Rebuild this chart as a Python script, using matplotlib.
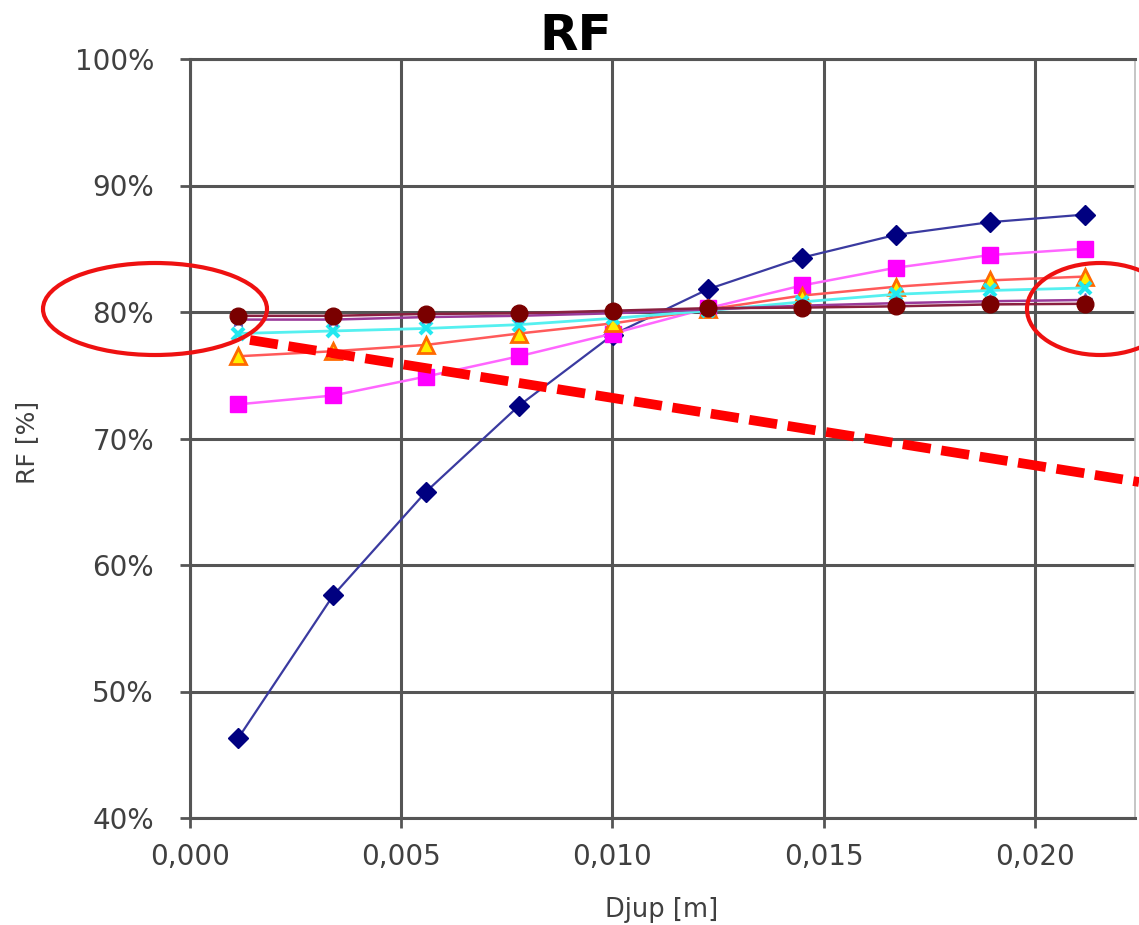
import matplotlib
matplotlib.use("Agg")
import matplotlib.pyplot as plt
from matplotlib.patches import Ellipse
from matplotlib.ticker import FuncFormatter

# Djup [m]
djup = [0.00114, 0.00339, 0.00559, 0.00779, 0.01001, 0.01226, 0.01449, 0.01671, 0.01893, 0.02118]

# RF [%] per series
rf_navy = [46.3, 57.6, 65.8, 72.6, 78.2, 81.8, 84.3, 86.1, 87.1, 87.7]
rf_magenta = [72.7, 73.4, 74.9, 76.5, 78.3, 80.3, 82.1, 83.5, 84.5, 85.0]
rf_triangle = [76.5, 76.9, 77.4, 78.3, 79.1, 80.2, 81.3, 82.0, 82.5, 82.8]
rf_cyan = [78.3, 78.5, 78.7, 79.0, 79.5, 80.1, 80.8, 81.4, 81.7, 81.9]
rf_purple = [79.4, 79.4, 79.6, 79.7, 79.9, 80.2, 80.5, 80.7, 80.85, 80.95]
rf_darkred = [79.7, 79.7, 79.85, 79.9, 80.1, 80.3, 80.35, 80.45, 80.6, 80.65]

x_ticks = [0.000, 0.005, 0.010, 0.015, 0.020]
y_ticks = [40, 50, 60, 70, 80, 90, 100]

W, H = 1139, 925
fig = plt.figure(figsize=(W / 100, H / 100), dpi=100)
ax = fig.add_axes([190 / W, (H - 818) / H, (1135 - 190) / W, (818 - 59) / H])

grid_c = "#555555"
ax.plot(djup, rf_navy, color="#3a3aa0", lw=1.6, marker="D", ms=10,
        mfc="#000080", mec="#000080", zorder=3)
ax.plot(djup, rf_magenta, color="#ff66ff", lw=1.8, marker="s", ms=12,
        mfc="#ff00ff", mec="#ff00ff", zorder=4)
ax.plot(djup, rf_triangle, color="#ff5a5a", lw=1.8, marker="^", ms=12,
        mfc="#ffee00", mec="#ff6a00", mew=2, zorder=5)
ax.plot(djup, rf_cyan, color="#55f0f0", lw=2.0, marker="x", ms=9,
        mec="#22e8f0", mew=3, zorder=6)
ax.plot(djup, rf_purple, color="#9a3a9a", lw=1.8, marker="*", ms=10,
        mfc="#6060c0", mec="#6060c0", zorder=7)
ax.plot(djup, rf_darkred, color="#8a2040", lw=1.8, marker="o", ms=12,
        mfc="#7a0000", mec="#7a0000", zorder=8)

ax.set_xlim(0, 0.02237)
ax.set_ylim(40, 100)
ax.set_xticks(x_ticks)
ax.set_yticks(y_ticks)
ax.xaxis.set_major_formatter(FuncFormatter(lambda v, p: f"{v:.3f}".replace(".", ",")))
ax.yaxis.set_major_formatter(FuncFormatter(lambda v, p: f"{v:.0f}%"))
ax.grid(True, color=grid_c, lw=2.2)
ax.set_axisbelow(True)
for s in ["left", "bottom", "top"]:
    ax.spines[s].set_color(grid_c)
    ax.spines[s].set_linewidth(2.2)
ax.spines["right"].set_color("#bbbbbb")
ax.spines["right"].set_linewidth(1.2)
ax.tick_params(direction="out", length=7, width=2, color=grid_c,
               labelsize=20, labelcolor="#404040")
ax.tick_params(axis="x", pad=11)
ax.tick_params(axis="y", pad=19)

fig.text(27 / W, 1 - 442 / H, "RF [%]", rotation=90, ha="center", va="center",
         fontsize=18, color="#404040")
fig.text(662 / W, 1 - 910 / H, "Djup [m]", ha="center", va="center",
         fontsize=18.5, color="#404040")
fig.text(576 / W, 1 - 36 / H, "RF", ha="center", va="center",
         fontsize=36, fontweight="bold", color="black")

# red annotations drawn on top, in pixel coordinates
ov = fig.add_axes([0, 0, 1, 1], facecolor="none")
ov.set_xlim(0, W)
ov.set_ylim(H, 0)
ov.axis("off")
ov.add_patch(Ellipse((155, 309), 224, 92, fill=False, ec="#ee1111", lw=3))
ov.add_patch(Ellipse((1100, 309), 146, 92, fill=False, ec="#ee1111", lw=3))
ov.plot([250, 1139], [340, 482], color="#ff0000", lw=7, dashes=(2.9, 1.1))

fig.savefig("out.png", dpi=100)
